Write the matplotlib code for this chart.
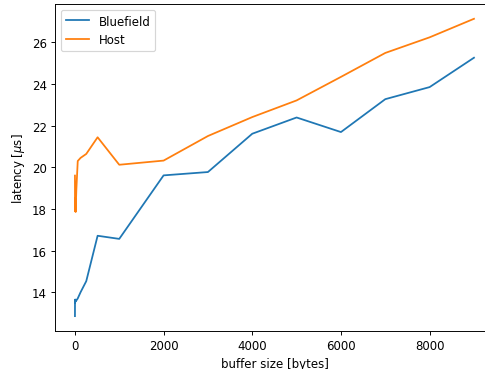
import matplotlib
matplotlib.use("Agg")
import matplotlib.pyplot as plt

# buffer sizes in bytes
sizes = [1, 2, 4, 8, 16, 32, 64, 128, 256, 512, 1000,
         2000, 3000, 4000, 5000, 6000, 7000, 8000, 9000]

bluefield = [12.85, 13.6, 13.5, 13.65, 13.55, 13.6, 13.7, 14.0, 14.53, 16.71, 16.56,
             19.61, 19.77, 21.61, 22.39, 21.69, 23.27, 23.85, 25.26]
host = [19.6, 18.2, 17.9, 18.5, 17.85, 18.9, 20.3, 20.45, 20.64, 21.44, 20.12,
        20.32, 21.5, 22.41, 23.21, 24.34, 25.49, 26.24, 27.13]

dpi = 85
fig = plt.figure(figsize=(485 / dpi, 370 / dpi), dpi=dpi)
ax = fig.add_axes([0.1134, 0.1027, 0.905, 0.884])

ax.plot(sizes, bluefield, label="Bluefield")
ax.plot(sizes, host, label="Host")

ax.set_xlabel("buffer size [bytes]")
ax.set_ylabel(r"latency [$\mu$s]")
ax.legend(loc="upper left")

fig.savefig("out.png", dpi=dpi)
